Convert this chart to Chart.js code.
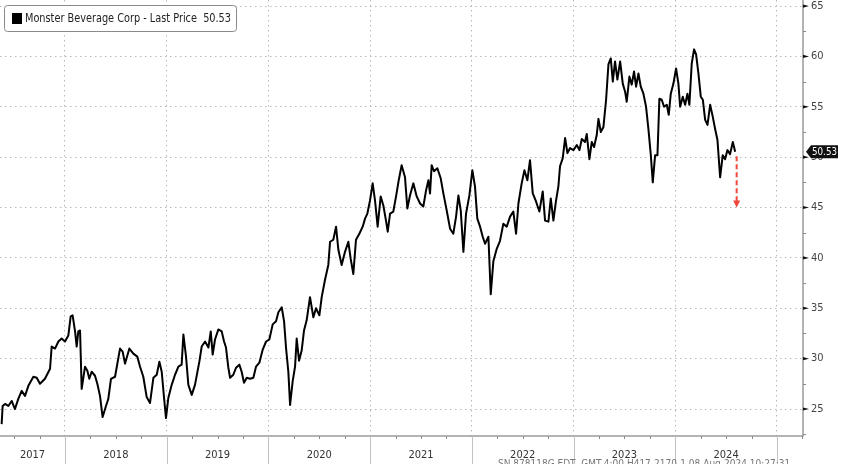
<!DOCTYPE html>
<html>
<head>
<meta charset="utf-8">
<script src="https://cdn.jsdelivr.net/npm/chart.js@4.4.1/dist/chart.umd.min.js"></script>
<style>
html, body { margin: 0; padding: 0; background: #fff; }
#wrap { width: 848px; height: 464px; }
</style>
</head>
<body>
<div id="wrap"><canvas id="priceChart" width="848" height="464"></canvas></div>
<script>
// dates as decimal years, prices in USD (split adjusted)
const dates = [
    2017.377, 2017.387, 2017.410, 2017.443, 2017.476, 2017.508, 2017.541, 2017.574, 2017.607, 2017.640,
    2017.689, 2017.722, 2017.754, 2017.803, 2017.853, 2017.869, 2017.902, 2017.935, 2017.967, 2018.000,
    2018.033, 2018.056, 2018.075, 2018.099, 2018.115, 2018.131, 2018.148, 2018.164, 2018.197, 2018.220,
    2018.239, 2018.262, 2018.295, 2018.318, 2018.344, 2018.370, 2018.403, 2018.426, 2018.452, 2018.492,
    2018.541, 2018.567, 2018.590, 2018.633, 2018.672, 2018.711, 2018.738, 2018.770, 2018.803,
    2018.836, 2018.869, 2018.902, 2018.928, 2018.951, 2018.974, 2018.993, 2019.016, 2019.049, 2019.082,
    2019.115, 2019.147, 2019.164, 2019.190, 2019.213, 2019.246, 2019.278, 2019.321, 2019.344, 2019.377,
    2019.410, 2019.433, 2019.452, 2019.475, 2019.508, 2019.541, 2019.564, 2019.583, 2019.606, 2019.623,
    2019.655, 2019.682, 2019.714, 2019.737, 2019.760, 2019.787, 2019.819, 2019.852, 2019.878, 2019.911,
    2019.944, 2019.977, 2020.009, 2020.042, 2020.075, 2020.098, 2020.131, 2020.154, 2020.173, 2020.196,
    2020.213,
    2020.239, 2020.262, 2020.278, 2020.301, 2020.327, 2020.350, 2020.376, 2020.409, 2020.442, 2020.468,
    2020.501, 2020.524, 2020.556, 2020.589, 2020.606, 2020.638, 2020.665, 2020.688, 2020.720, 2020.753,
    2020.786, 2020.809, 2020.835, 2020.861, 2020.894, 2020.927, 2020.950, 2020.973, 2020.999, 2021.025,
    2021.048, 2021.074, 2021.104, 2021.130, 2021.156, 2021.173, 2021.196, 2021.228, 2021.255, 2021.281,
    2021.310, 2021.343, 2021.366, 2021.392, 2021.425, 2021.458, 2021.491, 2021.523, 2021.550, 2021.573,
    2021.589,
    2021.605, 2021.628, 2021.661, 2021.694, 2021.720, 2021.753, 2021.786, 2021.818, 2021.845, 2021.868,
    2021.891, 2021.917, 2021.943, 2021.976, 2022.005, 2022.031, 2022.054, 2022.081, 2022.107, 2022.130,
    2022.163, 2022.186, 2022.212, 2022.245, 2022.277, 2022.310, 2022.343, 2022.376, 2022.408, 2022.435,
    2022.458, 2022.490, 2022.517, 2022.546, 2022.572, 2022.599, 2022.631, 2022.664, 2022.697, 2022.720,
    2022.753, 2022.776, 2022.802, 2022.828, 2022.851, 2022.867, 2022.894, 2022.917, 2022.940, 2022.966,
    2022.999, 2023.032, 2023.058, 2023.081, 2023.113, 2023.130, 2023.156, 2023.179, 2023.202, 2023.228,
    2023.245, 2023.268, 2023.294, 2023.320, 2023.343, 2023.366, 2023.386, 2023.408, 2023.431, 2023.458,
    2023.484, 2023.507, 2023.523, 2023.549, 2023.572, 2023.595, 2023.615, 2023.638, 2023.661, 2023.687,
    2023.713, 2023.736, 2023.759, 2023.779, 2023.802, 2023.825, 2023.844, 2023.867, 2023.890, 2023.917,
    2023.936, 2023.956, 2023.982, 2024.008, 2024.031, 2024.048, 2024.074, 2024.097, 2024.120, 2024.139,
    2024.162, 2024.185, 2024.205, 2024.228, 2024.251, 2024.271, 2024.294, 2024.317, 2024.343, 2024.369,
    2024.392, 2024.415, 2024.441, 2024.467, 2024.490, 2024.513, 2024.539, 2024.566, 2024.589
];
const prices = [
    23.5, 25.3, 25.5, 25.3, 25.8, 25.0, 26.0, 26.8, 26.3, 27.3,
    28.2, 28.1, 27.5, 28.0, 29.0, 31.2, 31.0, 31.7, 32.0, 31.7,
    32.3, 34.2, 34.3, 32.7, 31.2, 32.7, 32.8, 27.0, 29.2, 28.8,
    28.0, 28.7, 28.3, 27.5, 26.3, 24.2, 25.3, 26.0, 28.0, 28.2,
    31.0, 30.7, 29.5, 31.0, 30.5, 30.2, 29.2, 28.2, 26.2,
    25.6, 28.1, 28.4, 29.7, 28.7, 26.1, 24.1, 26.1, 27.4, 28.4,
    29.2, 29.4, 32.4, 30.2, 27.4, 26.4, 27.4, 29.7, 31.2, 31.7,
    31.1, 32.7, 30.4, 31.9, 32.9, 32.7, 31.7, 31.1, 29.1, 28.1,
    28.4, 29.1, 29.4, 28.7, 27.6, 28.1, 28.0, 28.1, 29.2, 29.6,
    30.9, 31.7, 31.9, 33.4, 33.7, 34.6, 35.1, 33.7, 31.1, 28.7,
    25.4,
    27.8, 29.2, 32.0, 29.8, 30.8, 32.8, 33.8, 36.1, 34.1, 35.0,
    34.3, 36.1, 37.8, 39.3, 41.6, 41.8, 43.1, 40.8, 39.3, 40.6,
    41.6, 39.9, 38.4, 41.8, 42.4, 43.1, 43.9, 44.4, 45.7, 47.4,
    45.7, 43.1, 46.1, 45.2, 43.7, 42.6, 44.4, 44.6, 46.1, 47.7,
    49.2, 48.0, 44.9, 46.2, 47.4, 46.1, 45.4, 45.1, 46.7, 47.7,
    46.4,
    49.2, 48.6, 48.9, 47.9, 46.4, 44.7, 42.9, 42.4, 44.1, 46.2,
    44.7, 40.6, 44.4, 46.2, 48.7, 47.1, 43.9, 43.1, 42.1, 41.4,
    42.1, 36.4, 39.7, 40.9, 41.7, 43.4, 43.1, 44.1, 44.6, 42.4,
    45.4, 47.4, 48.7, 47.7, 49.7, 46.4, 45.6, 44.6, 46.6, 43.7,
    43.6, 45.9, 43.7, 45.7, 47.1, 49.1, 49.9, 51.9, 50.4, 50.9,
    50.7, 51.2, 50.7, 51.8, 51.5, 52.3, 49.8, 51.5, 51.0, 52.2,
    53.8, 52.5, 53.0, 55.7, 59.2, 59.8, 57.5, 59.5, 57.7, 59.5,
    57.3, 56.5, 55.5, 58.0, 57.2, 58.5, 57.0, 58.3, 57.0, 56.3,
    55.0, 52.8, 50.3, 47.5, 50.2, 50.2, 55.8, 55.7, 55.0, 55.2,
    54.2, 56.3, 57.3, 58.8, 57.3, 55.0, 56.0, 55.2, 56.3, 55.2,
    59.3, 60.7, 60.2, 58.3, 56.0, 55.7, 53.7, 53.2, 55.2, 54.0,
    52.8, 51.7, 48.0, 50.2, 49.8, 50.7, 50.3, 51.5, 50.53
];
const yTickValues = [25, 30, 35, 40, 45, 50, 55, 60, 65];
const yearLabels = ['2017', '2018', '2019', '2020', '2021', '2022', '2023', '2024'];
const yearBoundaries = [2018, 2019, 2020, 2021, 2022, 2023, 2024, 2025];
const lastPrice = 50.53;
const arrowTarget = 45;
const seriesName = 'Monster Beverage Corp - Last Price';
const footerText = 'SN 878118G EDT  GMT-4:00 H417-2170-1 08-Aug-2024 10:27:31';

const narrowFont = '"Liberation Sans Narrow", "DejaVu Sans Condensed", "Liberation Sans", sans-serif';

const decorPlugin = {
    id: 'decor',
    afterDraw(chart) {
        const ctx = chart.ctx;
        const a = chart.chartArea;
        const x = chart.scales.x;
        const y = chart.scales.y;
        ctx.save();

        // axis lines
        ctx.strokeStyle = '#9a9a9a';
        ctx.lineWidth = 1.5;
        ctx.beginPath();
        ctx.moveTo(a.left, a.bottom);
        ctx.lineTo(a.right, a.bottom);
        ctx.lineTo(a.right, a.top);
        ctx.stroke();

        // quarter ticks below the time axis
        ctx.strokeStyle = '#8a8a8a';
        ctx.lineWidth = 1;
        for (let yr = 2017; yr <= 2025; yr++) {
            [0.25, 0.5, 0.75].forEach(q => {
                const v = yr + q;
                if (v < x.min || v > x.max) return;
                const px = Math.round(x.getPixelForValue(v)) + 0.5;
                ctx.beginPath();
                ctx.moveTo(px, a.bottom);
                ctx.lineTo(px, a.bottom + 3);
                ctx.stroke();
            });
        }

        // year separators
        ctx.strokeStyle = '#c2c2c2';
        yearBoundaries.forEach(b => {
            const px = Math.round(x.getPixelForValue(b)) + 0.5;
            ctx.beginPath();
            ctx.moveTo(px, a.bottom);
            ctx.lineTo(px, chart.height);
            ctx.stroke();
        });

        // year labels, centred on the visible part of each year
        ctx.fillStyle = '#333';
        ctx.font = '11px ' + narrowFont;
        ctx.textAlign = 'center';
        ctx.textBaseline = 'middle';
        yearLabels.forEach(lbl => {
            const yr = parseInt(lbl, 10);
            const s = x.getPixelForValue(Math.max(yr, x.min));
            const e = x.getPixelForValue(Math.min(yr + 1, x.max));
            ctx.fillText(lbl, (s + e) / 2, a.bottom + 19);
        });

        // value axis tick marks
        for (let v = 22.5; v <= 65; v += 2.5) {
            const py = y.getPixelForValue(v);
            if (v % 5 === 0) {
                ctx.fillStyle = '#111';
                ctx.beginPath();
                ctx.moveTo(a.right, py - 1.6);
                ctx.lineTo(a.right + 6, py);
                ctx.lineTo(a.right, py + 1.6);
                ctx.closePath();
                ctx.fill();
            } else {
                ctx.strokeStyle = '#8a8a8a';
                ctx.beginPath();
                ctx.moveTo(a.right, Math.round(py) + 0.5);
                ctx.lineTo(a.right + 3, Math.round(py) + 0.5);
                ctx.stroke();
            }
        }

        // last price tag
        const ty = y.getPixelForValue(lastPrice);
        ctx.fillStyle = '#111';
        ctx.beginPath();
        ctx.moveTo(a.right + 3, ty);
        ctx.lineTo(a.right + 8, ty - 6.5);
        ctx.lineTo(a.right + 35, ty - 6.5);
        ctx.lineTo(a.right + 35, ty + 6.5);
        ctx.lineTo(a.right + 8, ty + 6.5);
        ctx.closePath();
        ctx.fill();
        ctx.fillStyle = '#fff';
        ctx.font = '10px ' + narrowFont;
        ctx.textAlign = 'left';
        ctx.fillText(lastPrice.toFixed(2), a.right + 9, ty + 0.5, 25);

        // red dashed arrow down from the last price
        const ax = x.getPixelForValue(dates[dates.length - 1]) + 1.5;
        const ay0 = y.getPixelForValue(50.1);
        const ay1 = y.getPixelForValue(arrowTarget);
        ctx.strokeStyle = '#f0463c';
        ctx.fillStyle = '#f0463c';
        ctx.lineWidth = 2;
        ctx.setLineDash([5, 3]);
        ctx.beginPath();
        ctx.moveTo(ax, ay0);
        ctx.lineTo(ax, ay1 - 6);
        ctx.stroke();
        ctx.setLineDash([]);
        ctx.beginPath();
        ctx.moveTo(ax - 3.5, ay1 - 7);
        ctx.lineTo(ax + 3.5, ay1 - 7);
        ctx.lineTo(ax, ay1);
        ctx.closePath();
        ctx.fill();

        // legend box
        ctx.lineWidth = 1;
        ctx.strokeStyle = '#8a8a8a';
        ctx.fillStyle = '#fff';
        ctx.beginPath();
        ctx.roundRect(4.5, 5.5, 232, 26, 3);
        ctx.fill();
        ctx.stroke();
        ctx.fillStyle = '#000';
        ctx.fillRect(12, 13, 10, 11);
        ctx.fillStyle = '#222';
        ctx.font = '12px ' + narrowFont;
        ctx.textAlign = 'left';
        ctx.textBaseline = 'middle';
        ctx.fillText(seriesName + '  ' + lastPrice.toFixed(2), 25, 19, 206);

        // source footer, cut at the bottom edge
        ctx.fillStyle = '#777';
        ctx.font = '10px ' + narrowFont;
        ctx.textBaseline = 'top';
        ctx.fillText(footerText, 498, 459.5, 348);

        ctx.restore();
    }
};

const points = dates.map((d, i) => ({ x: d, y: prices[i] }));

// no edge padding for tick labels, so the plot reaches the top and left edges
function noPad(s) {
    s.paddingTop = 0;
    s.paddingBottom = 0;
    s.paddingLeft = 0;
    s.paddingRight = 0;
}

new Chart(document.getElementById('priceChart').getContext('2d'), {
    type: 'line',
    data: {
        datasets: [{
            label: seriesName,
            data: points,
            borderColor: '#000',
            borderWidth: 2,
            borderJoinStyle: 'round',
            pointRadius: 0,
            tension: 0,
            fill: false
        }]
    },
    options: {
        responsive: false,
        animation: false,
        layout: { padding: 0 },
        plugins: {
            legend: { display: false },
            tooltip: { enabled: false }
        },
        scales: {
            x: {
                type: 'linear',
                min: 2017.361,
                max: 2025.256,
                afterBuildTicks: s => { s.ticks = yearBoundaries.map(v => ({ value: v })); },
                afterFit: s => { s.height = 28; noPad(s); },
                ticks: { display: false },
                border: { display: false, dash: [1.5, 3.5] },
                grid: { color: '#b8b8b8', lineWidth: 1, drawTicks: false }
            },
            y: {
                position: 'right',
                min: 22.32,
                max: 65.6,
                afterBuildTicks: s => { s.ticks = yTickValues.map(v => ({ value: v })); },
                afterFit: s => { s.width = 45; noPad(s); },
                ticks: {
                    color: '#444',
                    padding: 8,
                    font: { family: narrowFont, size: 11 }
                },
                border: { display: false, dash: [1.5, 3.5] },
                grid: { color: '#b8b8b8', lineWidth: 1, drawTicks: false }
            }
        }
    },
    plugins: [decorPlugin]
});
</script>
</body>
</html>
